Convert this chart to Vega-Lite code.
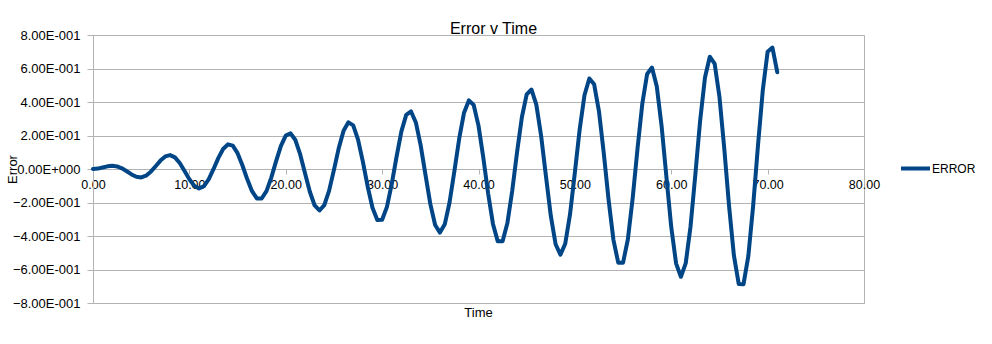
{
  "$schema": "https://vega.github.io/schema/vega-lite/v6.json",
  "autosize": "none",
  "width": 771,
  "height": 268,
  "padding": {"left": 93, "top": 35, "right": 128, "bottom": 41},
  "background": "white",
  "config": {
    "font": "Liberation Sans",
    "view": {"stroke": "#b3b3b3", "strokeWidth": 1}
  },
  "title": {
    "text": "Error v Time",
    "fontSize": 16,
    "fontWeight": "normal",
    "color": "#000000",
    "anchor": "middle",
    "dx": 15,
    "baseline": "alphabetic",
    "offset": -21
  },
  "data": {
    "values": [
      {"t": 0.0, "e": 0.0}, {"t": 0.5, "e": 0.0025}, {"t": 1.0, "e": 0.0089}, {"t": 1.5, "e": 0.0158}, {"t": 2.0, "e": 0.0191},
      {"t": 2.5, "e": 0.0155}, {"t": 3.0, "e": 0.004}, {"t": 3.5, "e": -0.0135}, {"t": 4.0, "e": -0.0325}, {"t": 4.5, "e": -0.0466},
      {"t": 5.0, "e": -0.0502}, {"t": 5.5, "e": -0.0399}, {"t": 6.0, "e": -0.016}, {"t": 6.5, "e": 0.0167}, {"t": 7.0, "e": 0.0502},
      {"t": 7.5, "e": 0.0751}, {"t": 8.0, "e": 0.083}, {"t": 8.5, "e": 0.0694}, {"t": 9.0, "e": 0.0355}, {"t": 9.5, "e": -0.0118},
      {"t": 10.0, "e": -0.0613}, {"t": 10.5, "e": -0.0999}, {"t": 11.0, "e": -0.1158}, {"t": 11.5, "e": -0.1029}, {"t": 12.0, "e": -0.0621},
      {"t": 12.5, "e": -0.0013}, {"t": 13.0, "e": 0.0648}, {"t": 13.5, "e": 0.1194}, {"t": 14.0, "e": 0.1473}, {"t": 14.5, "e": 0.1391},
      {"t": 15.0, "e": 0.0945}, {"t": 15.5, "e": 0.0225}, {"t": 16.0, "e": -0.0602}, {"t": 16.5, "e": -0.1327}, {"t": 17.0, "e": -0.1757},
      {"t": 17.5, "e": -0.1763}, {"t": 18.0, "e": -0.1319}, {"t": 18.5, "e": -0.0513}, {"t": 19.0, "e": 0.0468}, {"t": 19.5, "e": 0.1384},
      {"t": 20.0, "e": 0.1995}, {"t": 20.5, "e": 0.213}, {"t": 21.0, "e": 0.1729}, {"t": 21.5, "e": 0.0869}, {"t": 22.0, "e": -0.025},
      {"t": 22.5, "e": -0.1359}, {"t": 23.0, "e": -0.2177}, {"t": 23.5, "e": -0.2477}, {"t": 24.0, "e": -0.216}, {"t": 24.5, "e": -0.129},
      {"t": 25.0, "e": -0.0053}, {"t": 25.5, "e": 0.1247}, {"t": 26.0, "e": 0.2284}, {"t": 26.5, "e": 0.2785}, {"t": 27.0, "e": 0.2601},
      {"t": 27.5, "e": 0.1756}, {"t": 28.0, "e": 0.0437}, {"t": 28.5, "e": -0.1044}, {"t": 29.0, "e": -0.2312}, {"t": 29.5, "e": -0.3041},
      {"t": 30.0, "e": -0.3034}, {"t": 30.5, "e": -0.2259}, {"t": 31.0, "e": -0.0893}, {"t": 31.5, "e": 0.0744}, {"t": 32.0, "e": 0.2246},
      {"t": 32.5, "e": 0.3231}, {"t": 33.0, "e": 0.3435}, {"t": 33.5, "e": 0.278}, {"t": 34.0, "e": 0.1408}, {"t": 34.5, "e": -0.0355},
      {"t": 35.0, "e": -0.2084}, {"t": 35.5, "e": -0.3342}, {"t": 36.0, "e": -0.3795}, {"t": 36.5, "e": -0.3305}, {"t": 37.0, "e": -0.1983},
      {"t": 37.5, "e": -0.012}, {"t": 38.0, "e": 0.1822}, {"t": 38.5, "e": 0.336}, {"t": 39.0, "e": 0.4095}, {"t": 39.5, "e": 0.3823},
      {"t": 40.0, "e": 0.2588}, {"t": 40.5, "e": 0.0674}, {"t": 41.0, "e": -0.1462}, {"t": 41.5, "e": -0.3279}, {"t": 42.0, "e": -0.432},
      {"t": 42.5, "e": -0.431}, {"t": 43.0, "e": -0.3217}, {"t": 43.5, "e": -0.1298}, {"t": 44.0, "e": 0.0993}, {"t": 44.5, "e": 0.3088},
      {"t": 45.0, "e": 0.4458}, {"t": 45.5, "e": 0.4744}, {"t": 46.0, "e": 0.3846}, {"t": 46.5, "e": 0.197}, {"t": 47.0, "e": -0.0434},
      {"t": 47.5, "e": -0.2787}, {"t": 48.0, "e": -0.4494}, {"t": 48.5, "e": -0.5114}, {"t": 49.0, "e": -0.4464}, {"t": 49.5, "e": -0.2698},
      {"t": 50.0, "e": -0.0214}, {"t": 50.5, "e": 0.2373}, {"t": 51.0, "e": 0.4421}, {"t": 51.5, "e": 0.5402}, {"t": 52.0, "e": 0.5055},
      {"t": 52.5, "e": 0.3442}, {"t": 53.0, "e": 0.0939}, {"t": 53.5, "e": -0.1854}, {"t": 54.0, "e": -0.4228}, {"t": 54.5, "e": -0.5593},
      {"t": 55.0, "e": -0.559}, {"t": 55.5, "e": -0.4194}, {"t": 56.0, "e": -0.1728}, {"t": 56.5, "e": 0.1216}, {"t": 57.0, "e": 0.3909},
      {"t": 57.5, "e": 0.5676}, {"t": 58.0, "e": 0.6056}, {"t": 58.5, "e": 0.4929}, {"t": 59.0, "e": 0.2557}, {"t": 59.5, "e": -0.0486},
      {"t": 60.0, "e": -0.3467}, {"t": 60.5, "e": -0.5631}, {"t": 61.0, "e": -0.6433}, {"t": 61.5, "e": -0.5635}, {"t": 62.0, "e": -0.3436},
      {"t": 62.5, "e": -0.0334}, {"t": 63.0, "e": 0.29}, {"t": 63.5, "e": 0.5466}, {"t": 64.0, "e": 0.6706}, {"t": 64.5, "e": 0.6296},
      {"t": 65.0, "e": 0.4316}, {"t": 65.5, "e": 0.1228}, {"t": 66.0, "e": -0.2221}, {"t": 66.5, "e": -0.5157}, {"t": 67.0, "e": -0.6859},
      {"t": 67.5, "e": -0.6877}, {"t": 68.0, "e": -0.519}, {"t": 68.5, "e": -0.2184}, {"t": 69.0, "e": 0.1413}, {"t": 69.5, "e": 0.471},
      {"t": 70.0, "e": 0.7}, {"t": 70.5, "e": 0.725}, {"t": 71.0, "e": 0.578}
    ]
  },
  "mark": {"type": "line", "strokeWidth": 4, "strokeJoin": "round", "strokeCap": "round"},
  "encoding": {
    "x": {
      "field": "t",
      "type": "quantitative",
      "scale": {"domain": [0, 80], "nice": false, "zero": false},
      "axis": {
        "values": [0, 10, 20, 30, 40, 50, 60, 70, 80],
        "format": ".2f",
        "offset": -134,
        "grid": false,
        "domainColor": "#b3b3b3",
        "tickColor": "#b3b3b3",
        "tickSize": 5,
        "labelPadding": 4,
        "labelFontSize": 12.5,
        "labelColor": "#000000",
        "labelFlush": false,
        "title": "Time",
        "titleFontSize": 13,
        "titleFontWeight": "normal",
        "titleColor": "#000000",
        "titleBaseline": "top",
        "titleY": 137,
        "titleX": 385
      }
    },
    "y": {
      "field": "e",
      "type": "quantitative",
      "scale": {"domain": [-0.8, 0.8], "nice": false, "zero": false},
      "axis": {
        "values": [-0.8, -0.6, -0.4, -0.2, 0, 0.2, 0.4, 0.6, 0.8],
        "labelExpr": "datum.value == 0 ? '0.00E+000' : format(datum.value * 10, '.2f') + 'E-001'",
        "grid": true,
        "gridColor": "#b3b3b3",
        "domainColor": "#b3b3b3",
        "tickColor": "#b3b3b3",
        "tickSize": 6,
        "labelPadding": 7,
        "labelFontSize": 13,
        "labelColor": "#000000",
        "labelFlush": false,
        "title": "Error",
        "titleFontSize": 13,
        "titleFontWeight": "normal",
        "titleColor": "#000000",
        "titleAngle": -90,
        "titleAlign": "center",
        "titleBaseline": "middle",
        "titleX": -81,
        "titleY": 134
      }
    },
    "color": {
      "datum": "ERROR",
      "type": "nominal",
      "scale": {"range": ["#004586"]},
      "legend": {
        "title": null,
        "orient": "none",
        "legendX": 806,
        "legendY": 117,
        "symbolType": "stroke",
        "symbolSize": 841,
        "symbolStrokeWidth": 4,
        "labelFontSize": 12,
        "labelColor": "#000000",
        "labelOffset": 0
      }
    }
  }
}
